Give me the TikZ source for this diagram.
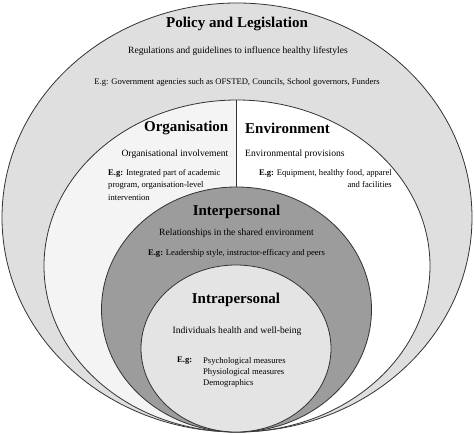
\documentclass[tikz,border=0pt]{standalone}
\usepackage{fontspec}
\setmainfont{Liberation Serif}
\usetikzlibrary{positioning}

\definecolor{policygray}{HTML}{DFDFDF}
\definecolor{orggray}{HTML}{F4F4F4}
\definecolor{intergray}{HTML}{9C9C9C}
\definecolor{intragray}{HTML}{E4E4E4}
\definecolor{rimgray}{HTML}{333333}

\begin{document}
\begin{tikzpicture}[x=1pt,y=-1pt]

\tikzset{ring/.style = {draw=rimgray, line width=0.8pt}}
\tikzset{heading/.style = {font=\fontsize{15}{18}\selectfont\bfseries, inner sep=0pt}}
\tikzset{body/.style = {font=\fontsize{9.6}{12}\selectfont, inner sep=0pt}}
\tikzset{example/.style = {font=\fontsize{8.6}{12.5}\selectfont, inner sep=0pt}}
\useasboundingbox (0,0) rectangle (474,434);

%levels
\fill[policygray] (237,217.5) ellipse [x radius=235pt, y radius=214.5pt];
\draw[ring] (237,217.5) ellipse [x radius=235pt, y radius=214.5pt];
\fill[white] (237,266) ellipse [x radius=193pt, y radius=166pt];
\begin{scope}
\clip (0,0) rectangle (236.5,434);
\fill[orggray] (237,266) ellipse [x radius=193pt, y radius=166pt];
\end{scope}
\draw[ring] (237,266) ellipse [x radius=193pt, y radius=166pt];
\coordinate (split top) at (236.5,100);
\coordinate (split bottom) at (236.5,190);
\draw[rimgray, line width=0.8pt] (split top) -- (split bottom);
\draw[ring, fill=intergray] (236.5,309.5) ellipse [x radius=135pt, y radius=122.5pt];
\draw[ring, fill=intragray] (236,348.5) ellipse [x radius=95pt, y radius=83.5pt];

%policy
\node[heading] (policy) at (237,24) {Policy and Legislation};
\node[body] (policy text) at (238,51) {Regulations and guidelines to influence healthy lifestyles};
\node[example] (policy eg) at (237,82) {E.g: Government agencies such as OFSTED, Councils, School governors, Funders};

%organisation / environment
\node[heading, anchor=east] (org) at (228.5,128) {Organisation};
\node[heading, anchor=west] (env) at (245,128) {Environment};
\node[body, anchor=east] (org text) at (228.5,154) {Organisational involvement};
\node[body, anchor=west] (env text) at (245,154) {Environmental provisions};
\node[example, anchor=north west, align=left] (org eg) at (108,169) {\textbf{E.g:} Integrated part of academic\\program, organisation-level\\intervention};
\node[example, anchor=north east, align=right] (env eg) at (392,169) {\textbf{E.g:} Equipment, healthy food, apparel\\and facilities};

%interpersonal
\node[heading] (inter) at (236.5,212) {Interpersonal};
\node[body] (inter text) at (236.5,233) {Relationships in the shared environment};
\node[example] (inter eg) at (236.5,253) {\textbf{E.g:} Leadership style, instructor-efficacy and peers};

%intrapersonal
\node[heading] (intra) at (236,300) {Intrapersonal};
\node[body] (intra text) at (237,331) {Individuals health and well-being};
\node[example, anchor=north west] (intra eg) at (177,357) {\textbf{E.g:}};
\node[example, anchor=north west, align=left, font=\fontsize{8.6}{11}\selectfont] (intra list) at (203,357) {Psychological measures\\Physiological measures\\Demographics};

\end{tikzpicture}
\end{document}
